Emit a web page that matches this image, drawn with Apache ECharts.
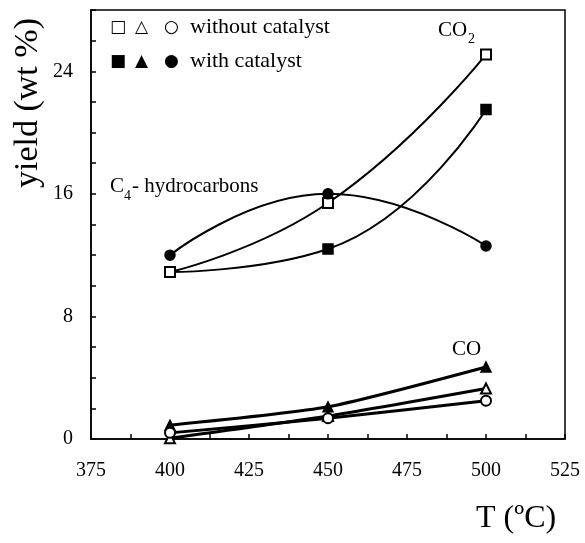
<!DOCTYPE html>
<html>
<head>
<meta charset="UTF-8">
<title>yield vs T</title>
<script src="https://cdn.jsdelivr.net/npm/echarts@6/dist/echarts.min.js"></script>
<style>
  body { margin: 0; background: #fff; }
  #main { width: 585px; height: 543px; }
</style>
</head>
<body>
<div id="main"></div>
<script>
  // temperatures (ºC)
  var temps = [400, 450, 500];
  // yields (wt %)
  var co2Without = [10.9, 15.4, 25.1];
  var co2With = [10.9, 12.4, 21.5];
  var c4With = [12.0, 16.0, 12.6];
  var c4Without = [0.4, 1.35, 2.5];
  var coWith = [0.9, 2.1, 4.7];
  var coWithout = [0.05, 1.5, 3.3];

  var xTicks = [375, 400, 425, 450, 475, 500, 525];
  var yTicks = [0, 8, 16, 24];

  var font = 'Liberation Serif, Times New Roman, serif';

  function pts(vals) {
    var res = [];
    for (var i = 0; i < temps.length; i++) {
      res.push([temps[i], vals[i]]);
    }
    return res;
  }

  function line(name, vals, symbol, smooth, width) {
    return {
      name: name,
      type: 'line',
      data: pts(vals),
      smooth: smooth,
      symbol: symbol,
      symbolSize: 10,
      showSymbol: true,
      lineStyle: { color: '#000', width: width },
      itemStyle: { color: '#000', borderColor: '#000', borderWidth: 1.5 },
      z: 3
    };
  }

  function txt(s, x, y, size, fam) {
    return { type: 'text', left: x, top: y, style: { text: s, font: size + 'px ' + (fam || font), fill: '#000' } };
  }

  var chart = echarts.init(document.getElementById('main'));
  chart.setOption({
    animation: false,
    backgroundColor: '#fff',
    textStyle: { fontFamily: font },
    grid: {
      left: 91, top: 10, right: 20, bottom: 104,
      show: true, borderColor: '#000', borderWidth: 1.5
    },
    xAxis: {
      type: 'value', min: 375, max: 525, interval: 12.5,
      axisLine: { lineStyle: { color: '#000', width: 1.5 } },
      axisTick: { inside: true, length: 5, lineStyle: { color: '#000', width: 1.5 } },
      splitLine: { show: false },
      axisLabel: {
        color: '#000', fontSize: 20, fontFamily: font, margin: 22,
        formatter: function (v) { return xTicks.indexOf(v) >= 0 ? String(v) : ''; }
      }
    },
    yAxis: {
      type: 'value', min: 0, max: 28, interval: 2,
      axisLine: { show: true, lineStyle: { color: '#000', width: 1.5 } },
      axisTick: { show: true, inside: true, length: 5, lineStyle: { color: '#000', width: 1.5 } },
      splitLine: { show: false },
      axisLabel: {
        color: '#000', fontSize: 20, fontFamily: font, margin: 18,
        formatter: function (v) { return yTicks.indexOf(v) >= 0 ? String(v) : ''; }
      }
    },
    series: [
      line('CO2 with', co2With, 'rect', 0.5, 2),
      line('CO2 without', co2Without, 'emptyRect', 0.5, 2),
      line('C4 with', c4With, 'circle', 0.5, 2),
      line('CO with', coWith, 'triangle', 0.2, 3),
      line('CO without', coWithout, 'emptyTriangle', 0.2, 3),
      line('C4 without', c4Without, 'emptyCircle', 0.2, 3)
    ],
    graphic: [
      // legend
      txt('□', 110, 19, 17, 'DejaVu Sans'),
      txt('△', 135, 19, 17, 'DejaVu Sans'),
      txt('○', 164, 19, 17, 'DejaVu Sans'),
      txt('without catalyst', 190, 16, 22),
      txt('■', 110, 53, 17, 'DejaVu Sans'),
      txt('▲', 135, 53, 17, 'DejaVu Sans'),
      txt('●', 164, 53, 17, 'DejaVu Sans'),
      txt('with catalyst', 190, 50, 22),
      // curve labels
      txt('CO', 438, 20, 21),
      txt('2', 468, 32, 14),
      txt('C', 110, 176, 21),
      txt('4', 124, 189, 14),
      txt('- hydrocarbons', 132, 176, 21),
      txt('CO', 452, 339, 21),
      {
        type: 'text', x: 28, y: 188, rotation: Math.PI / 2,
        style: { text: 'yield (wt %)', font: '34px ' + font, fill: '#000', align: 'left', verticalAlign: 'middle' }
      },
      txt('T (ºC)', 476, 503, 32)
    ]
  });
</script>
</body>
</html>
